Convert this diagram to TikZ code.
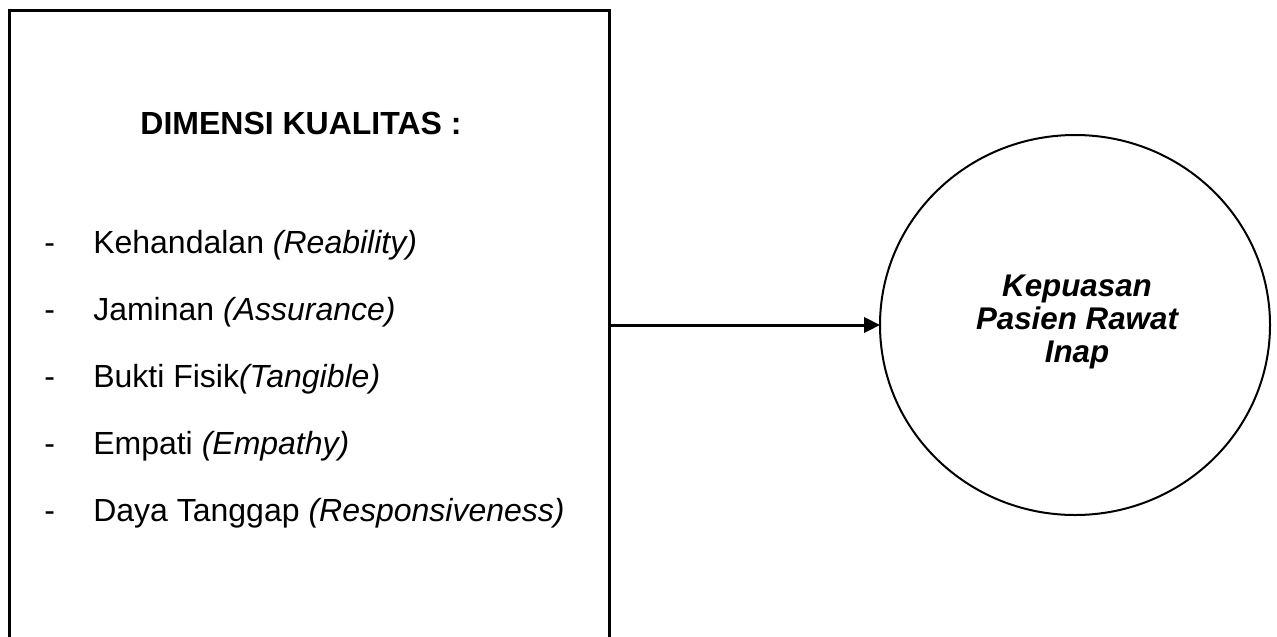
\documentclass[tikz,border=0pt]{standalone}
\usepackage{fontspec}
\setmainfont{Liberation Sans}
\usetikzlibrary{shapes.geometric,arrows.meta}
\tikzset{
  framebox/.style={draw, line width=2.25pt, minimum width=450pt, minimum height=525pt, inner sep=0pt, outer sep=0pt, anchor=north west},
  target/.style={ellipse, draw, line width=1.5pt, minimum width=292.5pt, minimum height=285pt, inner sep=0pt, outer sep=0pt},
  targettext/.style={align=center, inner sep=0pt, font=\fontsize{23.5}{24.75}\selectfont\bfseries\itshape},
  conn/.style={line width=2.25pt, -{Triangle[length=12pt,width=11.5pt]}},
  title/.style={anchor=base, inner sep=0pt, font=\fontsize{24}{28}\selectfont\bfseries},
  dashitem/.style={anchor=base west, inner sep=0pt, font=\fontsize{24}{28}\selectfont},
  item/.style={anchor=base west, inner sep=0pt, font=\fontsize{24}{28}\selectfont}
}
\begin{document}
\begin{tikzpicture}[x=0.75pt,y=-0.75pt]
\useasboundingbox (0,0) rectangle (1277,636);
\clip (0,0) rectangle (1277,636);
\node[framebox] (box) at (9.5,10.5) {};
\node[target] (circ) at (1075,325) {};
\node[targettext] (ct) at (1077,322) {Kepuasan\\Pasien Rawat\\Inap};
\draw[conn] (box.east |- circ.west) -- (circ.west);
\node[title] (t) at (301,134) {DIMENSI KUALITAS :};
\node[dashitem] (d1) at (44,253) {-};
\node[item] (i1) at (93,253) {Kehandalan \textit{(Reability)}};
\node[dashitem] (d2) at (44,320) {-};
\node[item] (i2) at (93,320) {Jaminan \textit{(Assurance)}};
\node[dashitem] (d3) at (44,387) {-};
\node[item] (i3) at (93,387) {Bukti Fisik\textit{(Tangible)}};
\node[dashitem] (d4) at (44,454) {-};
\node[item] (i4) at (93,454) {Empati \textit{(Empathy)}};
\node[dashitem] (d5) at (44,521) {-};
\node[item] (i5) at (93,521) {Daya Tanggap \textit{(Responsiveness)}};
\end{tikzpicture}
\end{document}
